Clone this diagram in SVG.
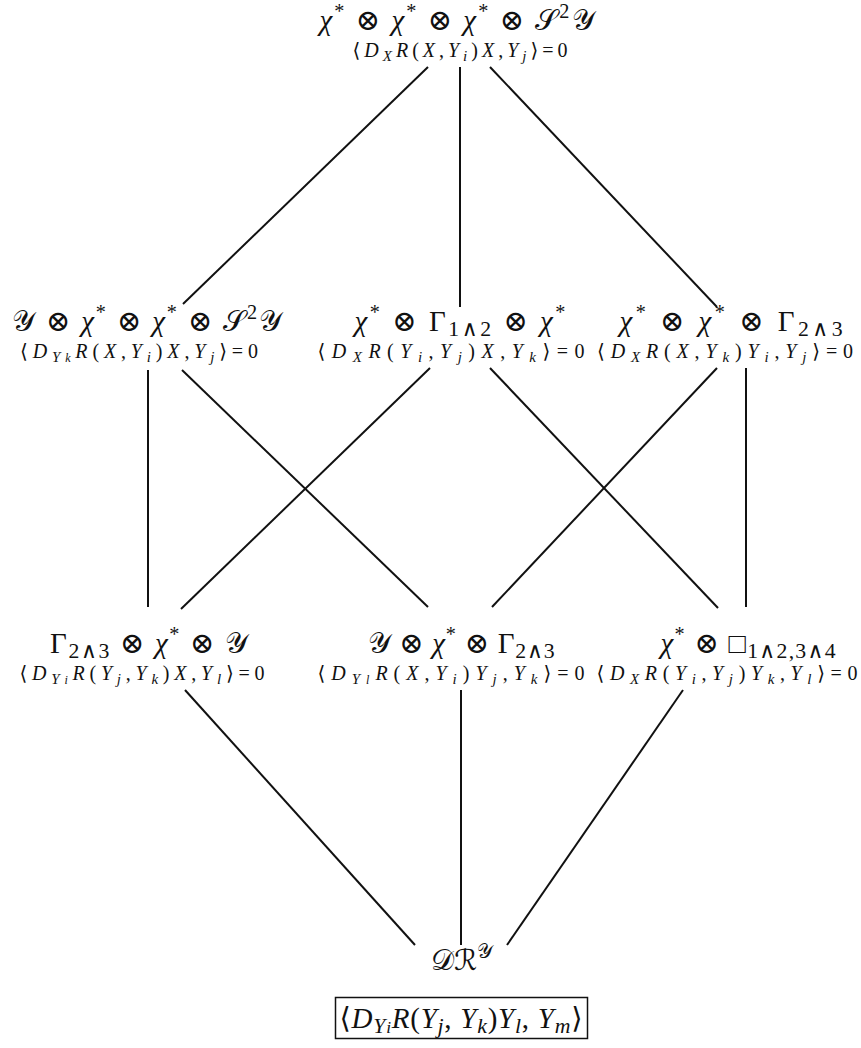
<svg xmlns="http://www.w3.org/2000/svg" width="861" height="1048" viewBox="0 0 861 1048">
<style>
text{font-family:"Liberation Serif","DejaVu Serif",serif;fill:#111;text-anchor:middle}
.m{font-size:29px}
.s{font-size:20px}
.i{font-style:italic}
.sb{font-size:75%;baseline-shift:-0.25em}
.sp{font-size:70%;baseline-shift:0.6em}
.c{font-family:"DejaVu Serif","DejaVu Sans","Noto Sans",serif;font-style:normal;font-weight:normal}
#edges line{stroke:#111;stroke-width:2}
</style>
<rect width="861" height="1048" fill="#fff"/>
<g id="edges">
<line x1="428" y1="67" x2="183" y2="304"/>
<line x1="460" y1="67" x2="460" y2="307"/>
<line x1="490" y1="67" x2="717" y2="307"/>
<line x1="148" y1="370" x2="148" y2="607"/>
<line x1="182" y1="370" x2="428" y2="607"/>
<line x1="430" y1="368" x2="181" y2="609"/>
<line x1="490" y1="368" x2="718" y2="608"/>
<line x1="717" y1="368" x2="492" y2="607"/>
<line x1="746" y1="368" x2="746" y2="607"/>
<line x1="185" y1="690" x2="415" y2="945"/>
<line x1="461" y1="690" x2="461" y2="945"/>
<line x1="683" y1="690" x2="507" y2="945"/>
</g>
<g id="n-top">
<text class="m" x="457" y="30" textLength="275"><tspan class="i">χ</tspan><tspan class="sp">*</tspan> ⊗ <tspan class="i">χ</tspan><tspan class="sp">*</tspan> ⊗ <tspan class="i">χ</tspan><tspan class="sp">*</tspan> ⊗ <tspan class="c">𝒮</tspan><tspan class="sp">2</tspan><tspan class="c">𝒴</tspan></text>
<text class="s" x="460" y="57" textLength="215">⟨<tspan class="i">D</tspan><tspan class="sb i">X</tspan><tspan class="i">R</tspan>(<tspan class="i">X</tspan>,<tspan class="i">Y</tspan><tspan class="sb i">i</tspan>)<tspan class="i">X</tspan>,<tspan class="i">Y</tspan><tspan class="sb i">j</tspan>⟩=0</text>
</g>
<g id="n-mid-left">
<text class="m" x="147" y="331" textLength="270"><tspan class="c">𝒴</tspan> ⊗ <tspan class="i">χ</tspan><tspan class="sp">*</tspan> ⊗ <tspan class="i">χ</tspan><tspan class="sp">*</tspan> ⊗ <tspan class="c">𝒮</tspan><tspan class="sp">2</tspan><tspan class="c">𝒴</tspan></text>
<text class="s" x="139" y="358" textLength="238">⟨<tspan class="i">D</tspan><tspan class="sb i">Y<tspan font-size="80%">k</tspan></tspan><tspan class="i">R</tspan>(<tspan class="i">X</tspan>,<tspan class="i">Y</tspan><tspan class="sb i">i</tspan>)<tspan class="i">X</tspan>,<tspan class="i">Y</tspan><tspan class="sb i">j</tspan>⟩=0</text>
</g>
<g id="n-mid-center">
<text class="m" x="460" y="331" textLength="211"><tspan class="i">χ</tspan><tspan class="sp">*</tspan> ⊗ Γ<tspan class="sb">1∧2</tspan> ⊗ <tspan class="i">χ</tspan><tspan class="sp">*</tspan></text>
<text class="s" x="451" y="358" textLength="267">⟨<tspan class="i">D</tspan><tspan class="sb i">X</tspan><tspan class="i">R</tspan>(<tspan class="i">Y</tspan><tspan class="sb i">i</tspan>,<tspan class="i">Y</tspan><tspan class="sb i">j</tspan>)<tspan class="i">X</tspan>,<tspan class="i">Y</tspan><tspan class="sb i">k</tspan>⟩=0</text>
</g>
<g id="n-mid-right">
<text class="m" x="731" y="331" textLength="223"><tspan class="i">χ</tspan><tspan class="sp">*</tspan> ⊗ <tspan class="i">χ</tspan><tspan class="sp">*</tspan> ⊗ Γ<tspan class="sb">2∧3</tspan></text>
<text class="s" x="725" y="358" textLength="256">⟨<tspan class="i">D</tspan><tspan class="sb i">X</tspan><tspan class="i">R</tspan>(<tspan class="i">X</tspan>,<tspan class="i">Y</tspan><tspan class="sb i">k</tspan>)<tspan class="i">Y</tspan><tspan class="sb i">i</tspan>,<tspan class="i">Y</tspan><tspan class="sb i">j</tspan>⟩=0</text>
</g>
<g id="n-bot-left">
<text class="m" x="149" y="653" textLength="198">Γ<tspan class="sb">2∧3</tspan> ⊗ <tspan class="i">χ</tspan><tspan class="sp">*</tspan> ⊗ <tspan class="c">𝒴</tspan></text>
<text class="s" x="142" y="680" textLength="245">⟨<tspan class="i">D</tspan><tspan class="sb i">Y<tspan font-size="80%">i</tspan></tspan><tspan class="i">R</tspan>(<tspan class="i">Y</tspan><tspan class="sb i">j</tspan>,<tspan class="i">Y</tspan><tspan class="sb i">k</tspan>)<tspan class="i">X</tspan>,<tspan class="i">Y</tspan><tspan class="sb i">l</tspan>⟩=0</text>
</g>
<g id="n-bot-center">
<text class="m" x="461" y="653" textLength="187"><tspan class="c">𝒴</tspan> ⊗ <tspan class="i">χ</tspan><tspan class="sp">*</tspan> ⊗ Γ<tspan class="sb">2∧3</tspan></text>
<text class="s" x="451" y="680" textLength="267">⟨<tspan class="i">D</tspan><tspan class="sb i">Y<tspan font-size="80%">l</tspan></tspan><tspan class="i">R</tspan>(<tspan class="i">X</tspan>,<tspan class="i">Y</tspan><tspan class="sb i">i</tspan>)<tspan class="i">Y</tspan><tspan class="sb i">j</tspan>,<tspan class="i">Y</tspan><tspan class="sb i">k</tspan>⟩=0</text>
</g>
<g id="n-bot-right">
<text class="m" x="748" y="653" textLength="175"><tspan class="i">χ</tspan><tspan class="sp">*</tspan> ⊗ □<tspan class="sb">1∧2,3∧4</tspan></text>
<text class="s" x="727" y="680" textLength="261">⟨<tspan class="i">D</tspan><tspan class="sb i">X</tspan><tspan class="i">R</tspan>(<tspan class="i">Y</tspan><tspan class="sb i">i</tspan>,<tspan class="i">Y</tspan><tspan class="sb i">j</tspan>)<tspan class="i">Y</tspan><tspan class="sb i">k</tspan>,<tspan class="i">Y</tspan><tspan class="sb i">l</tspan>⟩=0</text>
</g>
<g id="n-dr">
<text class="m" x="462" y="970" font-size="31"><tspan class="c">𝒟ℛ</tspan><tspan class="sp c">𝒴</tspan></text>
</g>
<g id="n-box">
<rect x="335.5" y="997.5" width="252" height="41" fill="none" stroke="#111" stroke-width="1.5"/>
<text class="m" x="461" y="1028" textLength="243">⟨<tspan class="i">D</tspan><tspan class="sb i">Y<tspan font-size="80%">i</tspan></tspan><tspan class="i">R</tspan>(<tspan class="i">Y</tspan><tspan class="sb i">j</tspan>, <tspan class="i">Y</tspan><tspan class="sb i">k</tspan>)<tspan class="i">Y</tspan><tspan class="sb i">l</tspan>, <tspan class="i">Y</tspan><tspan class="sb i">m</tspan>⟩</text>
</g>
</svg>
